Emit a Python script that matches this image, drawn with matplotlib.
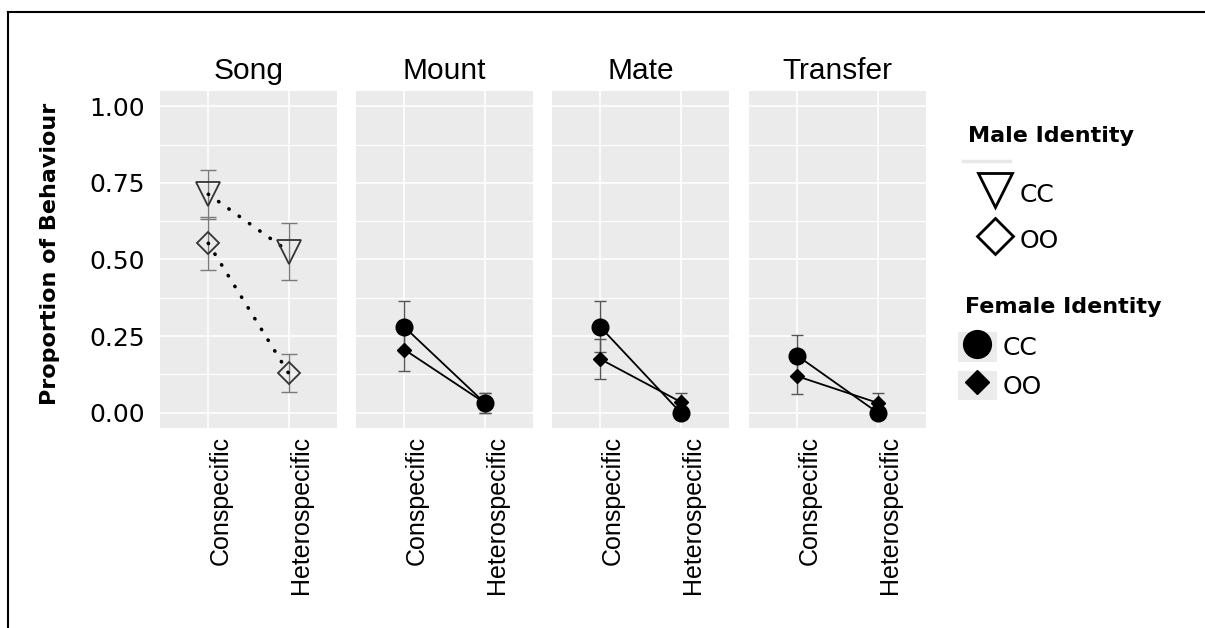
import numpy as np
import matplotlib.pyplot as plt
from matplotlib.lines import Line2D
from matplotlib.patches import Patch
from matplotlib.legend_handler import HandlerTuple

# pannelli e categorie
behaviours = ["Song", "Mount", "Mate", "Transfer"]
contexts = ["Conspecific", "Heterospecific"]

# Song: identita' del maschio (CC / OO), media e errore
song_cc = [0.713, 0.526]
song_cc_se = [0.080, 0.092]
song_oo = [0.553, 0.128]
song_oo_se = [0.087, 0.062]

# Mount / Mate / Transfer: identita' della femmina (CC / OO)
mount_cc = [0.280, 0.032]
mount_cc_se = [0.083, 0.032]
mount_oo = [0.206, 0.032]
mount_oo_se = [0.070, 0.032]

mate_cc = [0.280, 0.000]
mate_cc_se = [0.083, 0.000]
mate_oo = [0.175, 0.035]
mate_oo_se = [0.065, 0.030]

transfer_cc = [0.186, 0.000]
transfer_cc_se = [0.069, 0.000]
transfer_oo = [0.119, 0.032]
transfer_oo_se = [0.057, 0.032]

female_groups = [
    (mount_cc, mount_cc_se, mount_oo, mount_oo_se),
    (mate_cc, mate_cc_se, mate_oo, mate_oo_se),
    (transfer_cc, transfer_cc_se, transfer_oo, transfer_oo_se),
]

W, H = 1205, 628
fig = plt.figure(figsize=(W / 100, H / 100), dpi=100)

lefts = [160, 356, 552, 749]
pw = 177
top, bottom = 91, 428
xx = np.arange(1, len(contexts) + 1)

axes = []
for i, name in enumerate(behaviours):
    ax = fig.add_axes([lefts[i] / W, 1 - bottom / H, pw / W, (bottom - top) / H])
    ax.set_facecolor("#EBEBEB")
    for s in ax.spines.values():
        s.set_visible(False)
    ax.set_xlim(0.4, 2.6)
    ax.set_ylim(-0.05, 1.05)
    ax.set_yticks([0, 0.25, 0.5, 0.75, 1.0])
    ax.set_yticks([0.125, 0.375, 0.625, 0.875], minor=True)
    ax.set_xticks(xx)
    ax.set_xticklabels(contexts, rotation=90, ha="left", va="top",
                       fontfamily="Liberation Sans", fontsize=18)
    ax.grid(True, which="major", color="white", lw=1.2)
    ax.grid(True, which="minor", axis="y", color="white", lw=0.8)
    ax.set_axisbelow(True)
    ax.tick_params(which="both", length=0)
    ax.tick_params(axis="x", pad=6)
    ax.tick_params(axis="y", pad=11, labelsize=18)
    if i == 0:
        ax.set_yticklabels(["0.00", "0.25", "0.50", "0.75", "1.00"])
    else:
        ax.set_yticklabels([])
    ax.set_title(name, fontfamily="Liberation Sans", fontsize=21.5, pad=8.5)
    axes.append(ax)

# Song: linee punteggiate e marker vuoti
ax = axes[0]
ax.errorbar(xx, song_cc, yerr=song_cc_se, fmt="none", ecolor="#7a7a7a",
            elinewidth=1, capsize=6, capthick=1)
ax.errorbar(xx, song_oo, yerr=song_oo_se, fmt="none", ecolor="#7a7a7a",
            elinewidth=1, capsize=6, capthick=1)
ax.plot(xx, song_cc, color="black", lw=2.6, linestyle=(0, (0.1, 3.4)),
        dash_capstyle="round")
ax.plot(xx, song_oo, color="black", lw=2.6, linestyle=(0, (0.1, 3.4)),
        dash_capstyle="round")
ax.plot(xx, song_cc, ls="none", marker="v", ms=17, mfc="none", mec="#333333", mew=1.3)
ax.plot(xx, song_oo, ls="none", marker="D", ms=11.5, mfc="none", mec="#333333", mew=1.3)

# altri pannelli: marker pieni e linee continue
for ax, (cc, cc_se, oo, oo_se) in zip(axes[1:], female_groups):
    ax.errorbar(xx, cc, yerr=cc_se, fmt="none", ecolor="#555555",
                elinewidth=1, capsize=4, capthick=1)
    ax.errorbar(xx, oo, yerr=oo_se, fmt="none", ecolor="#555555",
                elinewidth=1, capsize=4, capthick=1)
    ax.plot(xx, cc, color="black", lw=1.3, marker="o", ms=12)
    ax.plot(xx, oo, color="black", lw=1.3, marker="D", ms=7)

fig.text(50 / W, 1 - 254 / H, "Proportion of Behaviour", rotation=90,
         ha="center", va="center", fontsize=16, fontweight="bold")

# legende (titoli come testo separato per controllare le distanze)
fig.text(968 / W, 1 - 142 / H, "Male Identity", ha="left", va="baseline",
         fontsize=16, fontweight="bold")
fig.add_artist(Line2D([963 / W, 1010 / W], [1 - 161 / H, 1 - 161 / H],
                      transform=fig.transFigure, color="#e8e8e8", lw=2.5))
h_cc = Line2D([], [], ls="none", marker="v", ms=24, mfc="none", mec="black", mew=2)
h_oo = Line2D([], [], ls="none", marker="D", ms=18, mfc="none", mec="black", mew=2)
leg1 = fig.legend([h_cc, h_oo], ["CC", "OO"],
                  loc="upper left", bbox_to_anchor=(970 / W, 1 - 178 / H),
                  frameon=False, fontsize=18,
                  handlelength=2.0, handleheight=1.5, handletextpad=0.0,
                  labelspacing=0.62, borderpad=0, borderaxespad=0)

fig.text(965 / W, 1 - 313 / H, "Female Identity", ha="left", va="baseline",
         fontsize=16, fontweight="bold")
bg = Patch(facecolor="#EBEBEB", edgecolor="none")
f_cc = Line2D([], [], ls="none", marker="o", ms=20, color="black")
f_oo = Line2D([], [], ls="none", marker="D", ms=12.5, color="black")
leg2 = fig.legend([(bg, f_cc), (bg, f_oo)], ["CC", "OO"],
                  loc="upper left", bbox_to_anchor=(958 / W, 1 - 332 / H),
                  frameon=False, fontsize=18,
                  handler_map={tuple: HandlerTuple(ndivide=1)},
                  handlelength=1.56, handleheight=1.44, handletextpad=0.24,
                  labelspacing=0.36, borderpad=0, borderaxespad=0)

# cornice
fig.add_artist(Line2D([8 / W, 8 / W], [0, 1 - 12 / H], transform=fig.transFigure,
                      color="black", lw=1.5))
fig.add_artist(Line2D([8 / W, 1], [1 - 12 / H, 1 - 12 / H], transform=fig.transFigure,
                      color="black", lw=1.5))

fig.savefig("out.png", dpi=100)
